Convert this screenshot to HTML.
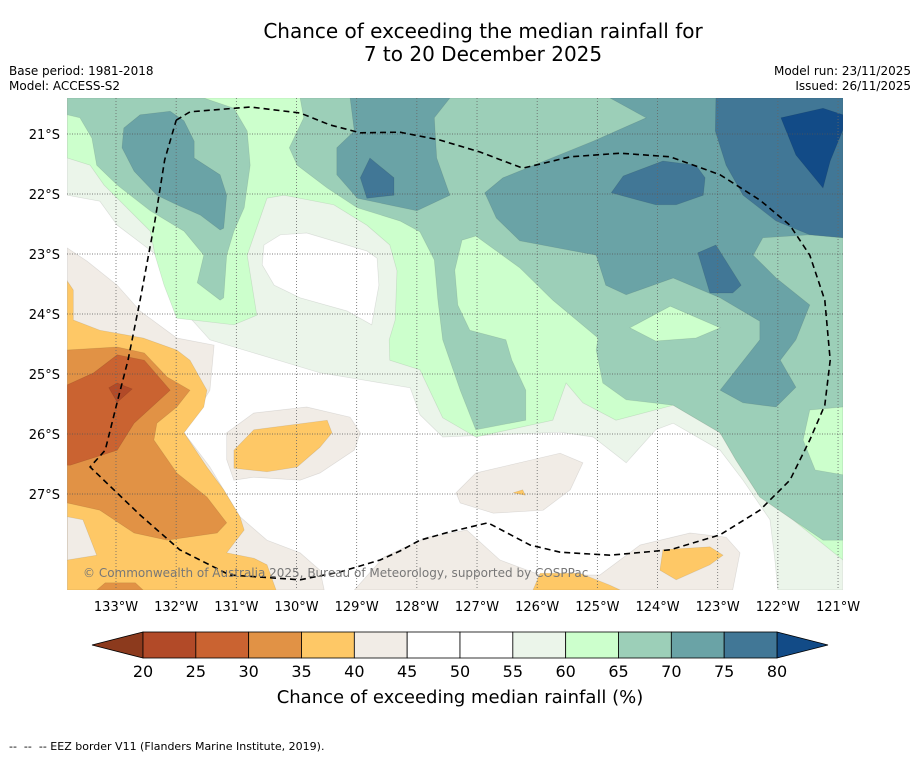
<!DOCTYPE html>
<html><head><meta charset="utf-8"><style>
body{margin:0;background:#fff;width:919px;height:758px;overflow:hidden;font-family:"DejaVu Sans","Liberation Sans",sans-serif}
svg{position:absolute;left:0;top:0;font-family:"DejaVu Sans","Liberation Sans",sans-serif}
</style></head><body>
<svg id="chart" width="919" height="758" viewBox="0 0 919 758">
<text x="483" y="38" text-anchor="middle" font-size="20">Chance of exceeding the median rainfall for</text>
<text x="483" y="61" text-anchor="middle" font-size="20">7 to 20 December 2025</text>
<text x="9" y="75" font-size="12">Base period: 1981-2018</text>
<text x="9" y="90" font-size="12">Model: ACCESS-S2</text>
<text x="911" y="75" font-size="12" text-anchor="end">Model run: 23/11/2025</text>
<text x="911" y="90" font-size="12" text-anchor="end">Issued: 26/11/2025</text>
<defs><clipPath id="plotclip"><rect x="67" y="98" width="776" height="492"/></clipPath></defs>
<g id="map" clip-path="url(#plotclip)"></g>
<g id="axes"></g>
<text x="83" y="577" font-size="12" fill="#777">© Commonwealth of Australia 2025, Bureau of Meteorology, supported by COSPPac</text>
<g id="cbar"></g>
<text x="460" y="703" text-anchor="middle" font-size="18">Chance of exceeding median rainfall (%)</text>
<text x="9" y="750" font-size="11" xml:space="preserve">--  --  -- EEZ border V11 (Flanders Marine Institute, 2019).</text>
</svg>
<script>
// colorbar data
const cbLevels=[20,25,30,35,40,45,50,55,60,65,70,75,80];
const cbColors=["#b24a28","#ca6331","#e19245","#fec866","#f1ece6","#ffffff","#ffffff","#ebf5ea","#ccffcc","#9ccfb8","#6aa3a6","#417796"];
const cbUnder="#8c3a1d", cbOver="#124b87";
const lonTicks=[133,132,131,130,129,128,127,126,125,124,123,122,121];
const latTicks=[21,22,23,24,25,26,27];
// contour region polygons [lonW, latS]
const pale55=[[133.81,20.40],[120.92,20.40],[120.92,28.60],[122.00,28.60],[122.05,28.10],[122.13,27.43],[122.58,26.77],[122.96,26.27],[123.74,25.82],[124.03,25.93],[124.52,26.48],[125.07,26.05],[125.62,25.97],[127.57,26.05],[127.95,25.68],[128.11,25.23],[129.61,24.98],[131.44,24.43],[131.87,23.95],[132.15,23.52],[132.32,23.02],[132.98,22.52],[133.27,22.12],[133.81,22.02]];
const green60=[[133.81,20.40],[120.92,20.40],[120.92,28.10],[121.75,27.43],[122.30,27.05],[122.70,26.43],[122.96,25.98],[123.74,25.52],[124.69,25.77],[125.24,25.48],[125.52,25.15],[125.74,25.77],[127.02,26.05],[127.57,25.73],[127.67,25.52],[127.95,24.93],[128.45,24.77],[128.46,24.43],[128.36,24.10],[128.33,23.28],[128.45,22.85],[128.83,22.52],[129.38,22.18],[130.21,22.02],[130.49,22.07],[130.82,23.02],[130.66,24.02],[131.04,24.18],[131.99,24.07],[132.20,23.52],[132.35,23.02],[132.43,22.62],[132.82,22.23],[133.20,21.85],[133.43,21.52],[133.81,21.40]];
const whiteHole=[[130.54,22.85],[130.27,22.68],[129.83,22.65],[128.83,22.95],[128.66,23.07],[128.63,23.52],[128.75,24.18],[129.16,23.95],[129.94,23.73],[130.37,23.52],[130.57,23.18]];
const g65a=[[133.81,20.40],[131.54,20.40],[131.04,20.57],[130.82,20.95],[130.77,21.52],[130.87,22.23],[131.04,22.62],[131.16,23.02],[131.21,23.73],[131.27,23.77],[131.65,23.48],[131.54,23.02],[131.87,22.62],[132.43,22.28],[132.98,21.85],[133.32,21.52],[133.40,21.07],[133.60,20.73],[133.81,20.68]];
const g65b=[[129.94,20.40],[120.92,20.40],[120.92,27.77],[121.25,27.77],[121.75,27.43],[122.30,27.05],[122.70,26.43],[122.96,25.98],[123.74,25.52],[124.52,25.43],[124.91,25.15],[125.02,24.60],[124.99,24.40],[125.74,23.77],[126.29,23.23],[127.02,22.70],[127.25,22.77],[127.37,23.27],[127.32,23.85],[127.12,24.27],[126.52,24.43],[126.42,24.77],[126.19,25.27],[126.19,25.77],[127.02,25.93],[127.28,25.27],[127.57,24.43],[127.65,23.77],[127.71,23.10],[127.95,22.63],[128.28,22.45],[128.99,22.23],[129.49,21.90],[129.99,21.52],[130.12,21.23],[129.88,20.73]];
const g60island=[[124.46,24.23],[123.79,23.87],[122.96,24.23],[123.36,24.40],[124.03,24.45]];
const g60right=[[120.92,25.55],[121.47,25.60],[121.58,26.10],[121.38,26.60],[120.92,26.68]];
const t70a=[[132.87,20.90],[132.60,20.68],[132.10,20.62],[131.87,20.78],[131.70,21.12],[131.70,21.40],[131.27,21.68],[131.16,22.02],[131.21,22.57],[131.27,22.60],[131.60,22.35],[131.99,22.18],[132.32,22.02],[132.70,21.62],[132.90,21.23]];
const t70b=[[124.79,20.40],[124.19,20.73],[125.07,21.12],[126.57,21.73],[126.87,21.98],[126.68,22.40],[126.29,22.78],[125.02,23.02],[124.86,23.52],[124.52,23.68],[123.74,23.40],[122.96,23.73],[122.30,24.12],[122.30,24.43],[122.96,25.27],[122.58,25.48],[122.03,25.55],[121.70,25.22],[121.96,24.77],[121.70,24.43],[121.47,23.85],[122.03,23.40],[122.41,23.02],[122.25,22.73],[121.47,22.68],[120.92,22.73],[120.92,20.40]];
const t70c=[[129.11,20.40],[129.04,20.95],[129.33,21.23],[129.33,21.68],[128.99,22.07],[128.00,22.28],[127.45,22.02],[127.67,21.40],[127.71,20.73],[127.45,20.40]];
const b75a=[[123.03,20.40],[123.04,20.95],[122.86,21.52],[122.58,22.02],[122.03,22.45],[121.47,22.68],[120.92,22.73],[120.92,20.40]];
const b75b=[[124.77,21.98],[124.57,21.70],[123.91,21.45],[123.36,21.52],[123.21,21.73],[123.24,22.02],[123.69,22.18],[124.03,22.18]];
const b75c=[[123.33,22.98],[123.03,22.85],[122.61,23.52],[122.75,23.65],[123.13,23.65]];
const b75d=[[128.94,21.73],[128.78,21.40],[128.38,21.73],[128.38,22.02],[128.83,22.07]];
const b80=[[121.95,20.73],[121.25,20.57],[120.92,20.68],[120.92,20.93],[121.13,21.45],[121.25,21.90],[121.70,21.35]];
const beigeLeft=[[133.81,22.90],[133.48,23.12],[132.98,23.52],[132.60,23.95],[131.99,24.40],[131.37,24.52],[131.44,25.27],[131.87,25.98],[131.44,26.55],[130.94,27.38],[130.49,27.77],[129.94,27.98],[129.61,28.27],[129.54,28.60],[133.81,28.60]];
const beigeBlob=[[131.16,25.98],[130.71,25.65],[129.83,25.55],[129.11,25.72],[128.94,25.98],[129.04,26.27],[129.61,26.65],[129.94,26.77],[130.71,26.72],[131.04,26.77],[131.16,26.43]];
const beigeBottom=[[129.04,28.60],[128.55,28.05],[127.83,27.72],[127.17,27.60],[126.62,28.10],[125.95,28.35],[124.96,28.35],[124.29,27.85],[123.46,27.65],[122.86,27.72],[122.63,27.98],[122.75,28.60]];
const beigeBlob2=[[127.35,26.98],[127.02,26.65],[125.62,26.32],[125.24,26.48],[125.45,26.93],[125.90,27.27],[126.73,27.32],[127.28,27.15]];
const yellowLeft=[[133.81,23.45],[133.71,23.60],[133.71,24.10],[133.27,24.27],[132.55,24.40],[131.99,24.60],[131.77,24.77],[131.49,25.27],[131.54,25.55],[131.87,25.98],[131.49,26.55],[131.21,26.93],[130.94,27.38],[130.87,27.60],[131.16,27.98],[130.71,28.07],[130.49,28.18],[130.34,28.60],[133.81,28.60]];
const beigePatch=[[133.81,27.38],[133.55,27.43],[133.32,28.02],[133.81,28.10]];
const yellowBottom1=[[126.07,28.60],[125.95,28.32],[125.29,28.32],[124.79,28.52],[124.62,28.60]];
const yellowBottom2=[[123.91,27.93],[123.13,27.88],[122.91,28.02],[123.13,28.18],[123.69,28.43],[123.96,28.27]];
const yellowBlob=[[131.04,26.27],[130.71,25.93],[129.49,25.77],[129.41,25.98],[129.61,26.22],[129.99,26.55],[130.49,26.63],[131.04,26.57]];
const yellowTiny=[[126.40,26.98],[126.24,26.93],[126.20,27.02]];
const orange30=[[133.81,24.60],[132.98,24.55],[132.53,24.65],[132.15,25.05],[131.77,25.27],[131.99,25.55],[132.32,25.82],[132.37,26.10],[131.99,26.65],[131.49,27.05],[131.16,27.48],[131.32,27.65],[132.15,27.77],[132.70,27.65],[133.27,27.27],[133.81,27.15]];
const orangeBottom=[[133.32,28.60],[133.18,28.48],[132.68,28.48],[132.55,28.60]];
const red25=[[133.81,25.18],[133.37,24.98],[132.98,24.68],[132.53,24.77],[132.10,25.27],[132.70,25.82],[132.98,26.27],[133.76,26.52],[133.81,26.52]];
const dark20=[[133.12,25.23],[132.98,25.15],[132.73,25.25],[132.98,25.47]];
const eez=[[132.00,20.77],[131.77,20.63],[130.77,20.55],[129.94,20.65],[129.44,20.85],[128.94,20.98],[128.28,20.97],[127.62,21.10],[126.95,21.30],[126.24,21.57],[125.45,21.38],[124.62,21.32],[123.79,21.38],[122.96,21.68],[122.30,22.10],[121.80,22.52],[121.47,23.02],[121.22,23.77],[121.13,24.77],[121.22,25.52],[121.47,26.10],[121.80,26.77],[122.30,27.27],[122.96,27.68],[123.79,27.93],[124.79,28.02],[125.62,27.97],[126.12,27.85],[126.82,27.48],[127.45,27.63],[127.95,27.77],[128.28,27.95],[128.61,28.10],[129.28,28.30],[129.94,28.43],[131.11,28.35],[131.94,27.93],[132.60,27.35],[133.43,26.55],[133.18,26.27],[132.97,25.43],[132.80,24.77],[132.60,23.77],[132.35,22.43],[132.19,21.43],[132.00,20.77]];

const NS="http://www.w3.org/2000/svg";
function xs(lonW){return 116+(133-lonW)*60.17;}
function ys(latS){return 134+(latS-21)*60;}
function pts(a){return a.map(p=>xs(p[0]).toFixed(1)+","+ys(p[1]).toFixed(1)).join(" ");}
const map=document.getElementById("map");
const layers=[
 [pale55,7,"contour-55-60"],[green60,8,"contour-60-65"],[whiteHole,5,"contour-45-55-hole"],
 [g65a,9,"contour-65-70-west"],[g65b,9,"contour-65-70-east"],[g60island,8,"contour-60-island"],[g60right,8,"contour-60-east"],
 [t70a,10,"contour-70-west"],[t70b,10,"contour-70-east"],[t70c,10,"contour-70-central"],
 [b75a,11,"contour-75-northeast"],[b75b,11,"contour-75-central"],[b75c,11,"contour-75-east"],[b75d,11,"contour-75-north"],
 [b80,-2,"contour-80-plus"],
 [beigeLeft,4,"contour-40-45-west"],[beigeBlob,4,"contour-40-45-blob"],[beigeBottom,4,"contour-40-45-south"],[beigeBlob2,4,"contour-40-45-blob2"],
 [yellowLeft,3,"contour-35-40-west"],[beigePatch,4,"contour-40-45-patch"],[yellowBottom1,3,"contour-35-40-south"],[yellowBottom2,3,"contour-35-40-southeast"],[yellowBlob,3,"contour-35-40-blob"],[yellowTiny,3,"contour-35-40-tiny"],
 [orange30,2,"contour-30-35"],[orangeBottom,2,"contour-30-35-south"],[red25,1,"contour-25-30"],[dark20,0,"contour-20-25"]
];
const bg=document.createElementNS(NS,"rect");
bg.setAttribute("x",67);bg.setAttribute("y",98);bg.setAttribute("width",776);bg.setAttribute("height",492);bg.setAttribute("fill","#fff");


map.appendChild(bg);
layers.forEach(l=>{
 const p=document.createElementNS(NS,"polygon");
 p.setAttribute("points",pts(l[0]));
 p.setAttribute("fill",l[1]<0?cbOver:cbColors[l[1]]);
 p.setAttribute("stroke","rgba(0,0,0,0.1)");p.setAttribute("stroke-width","0.7");
 
 
 map.appendChild(p);
});
const ax=document.getElementById("axes");
lonTicks.forEach(t=>{
 const x=xs(t);
 const ln=document.createElementNS(NS,"line");
 ln.setAttribute("x1",x);ln.setAttribute("x2",x);ln.setAttribute("y1",98);ln.setAttribute("y2",590);
 ln.setAttribute("stroke","#666");ln.setAttribute("stroke-width","0.8");ln.setAttribute("stroke-dasharray","1 2");
 
 
 map.appendChild(ln);
 const tx=document.createElementNS(NS,"text");
 tx.setAttribute("x",x);tx.setAttribute("y",611);tx.setAttribute("text-anchor","middle");tx.setAttribute("font-size","13");
 tx.textContent=t+"°W";
 
 
 ax.appendChild(tx);
});
latTicks.forEach(t=>{
 const y=ys(t);
 const ln=document.createElementNS(NS,"line");
 ln.setAttribute("x1",67);ln.setAttribute("x2",843);ln.setAttribute("y1",y);ln.setAttribute("y2",y);
 ln.setAttribute("stroke","#555");ln.setAttribute("stroke-width","0.8");ln.setAttribute("stroke-dasharray","1 1.5");
 
 
 map.appendChild(ln);
 const tx=document.createElementNS(NS,"text");
 tx.setAttribute("x",60);tx.setAttribute("y",y+5);tx.setAttribute("text-anchor","end");tx.setAttribute("font-size","13");
 tx.textContent=t+"°S";
 
 
 ax.appendChild(tx);
});
const ez=document.createElementNS(NS,"polyline");
ez.setAttribute("points",pts(eez));ez.setAttribute("fill","none");ez.setAttribute("stroke","#000");
ez.setAttribute("stroke-width","1.6");ez.setAttribute("stroke-dasharray","6 4");


map.appendChild(ez);
// colorbar
const cb=document.getElementById("cbar");
const cx0=143,cx1=777,cy=632,ch=26;
function cbx(v){return cx0+(v-cbLevels[0])/(cbLevels[cbLevels.length-1]-cbLevels[0])*(cx1-cx0);}
const under=document.createElementNS(NS,"polygon");
under.setAttribute("points",`${cx0},${cy} 92,${cy+ch/2} ${cx0},${cy+ch}`);under.setAttribute("fill",cbUnder);under.setAttribute("stroke","#000");under.setAttribute("stroke-width","0.8");


cb.appendChild(under);
const over=document.createElementNS(NS,"polygon");
over.setAttribute("points",`${cx1},${cy} 828,${cy+ch/2} ${cx1},${cy+ch}`);over.setAttribute("fill",cbOver);over.setAttribute("stroke","#000");over.setAttribute("stroke-width","0.8");


cb.appendChild(over);
cbColors.forEach((c,i)=>{
 const r=document.createElementNS(NS,"rect");
 const x0=cbx(cbLevels[i]),x1=cbx(cbLevels[i+1]);
 r.setAttribute("x",x0);r.setAttribute("y",cy);r.setAttribute("width",x1-x0);r.setAttribute("height",ch);
 r.setAttribute("fill",c);r.setAttribute("stroke","#000");r.setAttribute("stroke-width","0.8");
 
 
 cb.appendChild(r);
});
cbLevels.forEach(v=>{
 const tx=document.createElementNS(NS,"text");
 tx.setAttribute("x",cbx(v));tx.setAttribute("y",677);tx.setAttribute("text-anchor","middle");tx.setAttribute("font-size","16");
 tx.textContent=v;
 
 
 cb.appendChild(tx);
});
</script>
</body></html>
